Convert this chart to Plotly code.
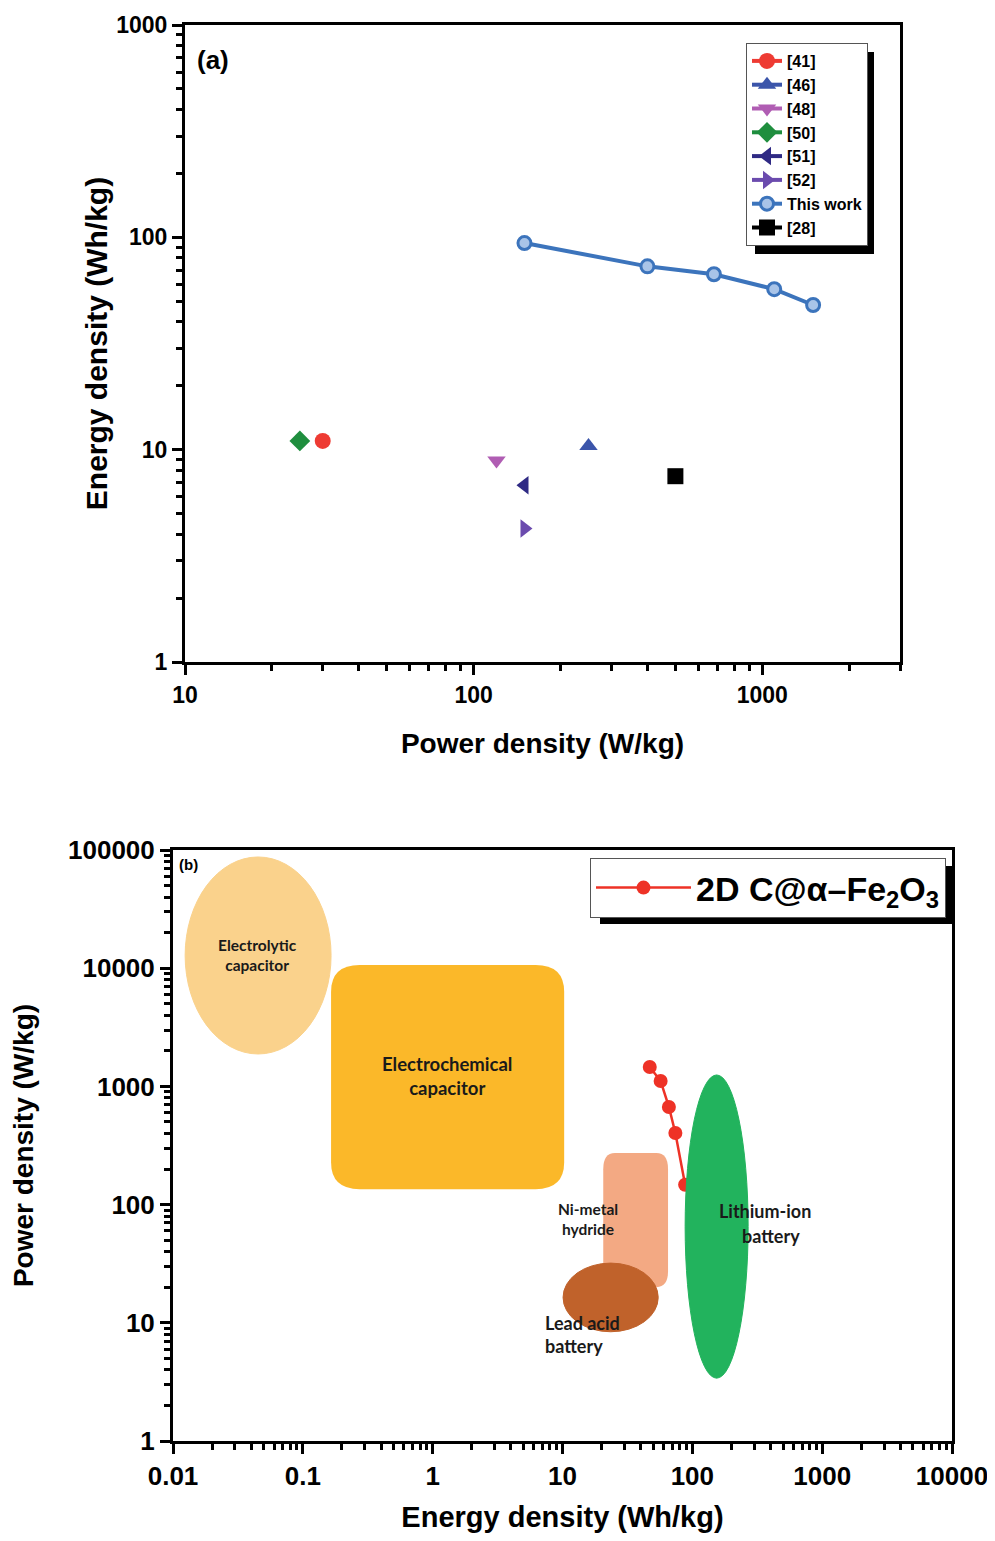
import numpy as np
import plotly.graph_objects as go

# ---------------- Panel (a) data ----------------
ref_labels = ["[41]", "[46]", "[48]", "[50]", "[51]", "[52]", "[28]"]
ref_power = [30, 250, 120, 25, 150, 150, 500]          # W/kg
ref_energy = [11.0, 10.4, 8.9, 11.0, 6.8, 4.25, 7.5]  # Wh/kg
ref_symbols = ["circle", "triangle-up", "triangle-down", "diamond",
               "triangle-left", "triangle-right", "square"]
ref_colors = ["#EE3B33", "#3B55AA", "#B05DB3", "#1F8E3E", "#2F2A84", "#6B4BAE", "#000000"]
ref_rank = [1, 2, 3, 4, 5, 6, 8]

this_power = [150, 400, 680, 1100, 1500]   # W/kg
this_energy = [94, 73, 67, 57, 48]         # Wh/kg

# ---------------- Panel (b) data ----------------
fe_energy = [47, 57, 66, 74, 88]           # Wh/kg
fe_power = [1460, 1110, 670, 403, 147]     # W/kg

region_names = ["Electrolytic capacitor", "Electrochemical capacitor", "Ni-metal hydride",
                "Lead acid battery", "Lithium-ion battery"]
region_e_min = [0.0124, 0.165, 20.6, 10.1, 88]
region_e_max = [0.165, 10.3, 65, 54.6, 269]
region_p_min = [1880, 135, 20, 8.4, 3.4]
region_p_max = [87300, 10650, 273, 32, 1250]
region_kind = ["ellipse", "roundrect", "roundrect", "ellipse", "ellipse"]
region_colors = ["#FAD28C", "#FBB829", "#F3A983", "#C0622B", "#22B35D"]
region_layer = ["below", "below", "below", "below", "above"]

# page is 995x1541; the page body adds an 8px margin around the figure
PAGE_W, PAGE_H, OFF = 995, 1541, 8
FW, FH = PAGE_W - 2 * OFF, PAGE_H - 2 * OFF
px2x = lambda px: (px - OFF) / FW
py2y = lambda py: 1 - (py - OFF) / FH

BOLD = "Liberation Sans, Arial, sans-serif"
LABF = "Lato, Open Sans, sans-serif"

fig = go.Figure()

for lab, xp, yp, sym, col, rk in zip(ref_labels, ref_power, ref_energy, ref_symbols, ref_colors, ref_rank):
    fig.add_trace(go.Scatter(
        x=[xp], y=[yp], mode="lines+markers", name=lab, legendrank=rk,
        marker=dict(symbol=sym, size=16, color=col, line=dict(width=0)),
        line=dict(color=col, width=4), xaxis="x", yaxis="y", legend="legend"))

fig.add_trace(go.Scatter(
    x=this_power, y=this_energy, mode="lines+markers", name="This work", legendrank=7,
    marker=dict(symbol="circle", size=13, color="#A9C4E8", line=dict(color="#3C74BC", width=3)),
    line=dict(color="#3C74BC", width=4), xaxis="x", yaxis="y", legend="legend"))

fig.add_trace(go.Scatter(
    x=fe_energy, y=fe_power, mode="lines+markers",
    name="2D C@\u03b1\u2013Fe<sub>2</sub>O<sub>3</sub>",
    marker=dict(symbol="circle", size=14, color="#EE3226"),
    line=dict(color="#EE3226", width=2.5), xaxis="x2", yaxis="y2", legend="legend2"))

# region shapes (panel b)
shapes = []
for nm, e0, e1, p0, p1, kind, col, lay in zip(region_names, region_e_min, region_e_max,
                                                region_p_min, region_p_max, region_kind,
                                                region_colors, region_layer):
    if kind == "ellipse":
        shapes.append(dict(type="circle", xref="x2", yref="y2", x0=e0, x1=e1, y0=p0, y1=p1,
                           fillcolor=col, line=dict(color=col, width=1), layer=lay))
    else:
        lx0, lx1, ly0, ly1 = np.log10([e0, e1, p0, p1])
        rx = min(0.22, (lx1 - lx0) * 0.18)
        ry = min(0.24, (ly1 - ly0) * 0.12)
        f = lambda v: f"{10 ** v:.6g}"
        path = (f"M{f(lx0 + rx)},{f(ly0)} L{f(lx1 - rx)},{f(ly0)} Q{f(lx1)},{f(ly0)} {f(lx1)},{f(ly0 + ry)} "
                f"L{f(lx1)},{f(ly1 - ry)} Q{f(lx1)},{f(ly1)} {f(lx1 - rx)},{f(ly1)} "
                f"L{f(lx0 + rx)},{f(ly1)} Q{f(lx0)},{f(ly1)} {f(lx0)},{f(ly1 - ry)} "
                f"L{f(lx0)},{f(ly0 + ry)} Q{f(lx0)},{f(ly0)} {f(lx0 + rx)},{f(ly0)} Z")
        shapes.append(dict(type="path", xref="x2", yref="y2", path=path,
                           fillcolor=col, line=dict(color=col, width=0), layer=lay))

# legend shadows (page pixels)
def px_rect(x0, y0, x1, y1):
    return dict(type="rect", xref="paper", yref="paper", x0=px2x(x0), x1=px2x(x1),
                y0=py2y(y1), y1=py2y(y0), fillcolor="black", line=dict(width=0), layer="above")

shapes.append(px_rect(755, 52, 874, 254))
shapes.append(px_rect(600, 866, 953, 924))

annotations = [
    dict(text="<b>(a)</b>", x=px2x(195), y=py2y(60), xref="paper", yref="paper",
         xanchor="left", yanchor="middle", showarrow=False, font=dict(family=BOLD, size=26, color="black")),
    dict(text="<b>(b)</b>", x=px2x(177), y=py2y(864), xref="paper", yref="paper",
         xanchor="left", yanchor="middle", showarrow=False, font=dict(family=BOLD, size=15, color="black")),
]

def lab(text, e, p, size, xanchor="center", align="center"):
    annotations.append(dict(text=text, x=np.log10(e), y=np.log10(p), xref="x2", yref="y2",
                            xanchor=xanchor, yanchor="middle", align=align, showarrow=False,
                            font=dict(family=LABF, size=size, color="#1a1a1a", weight="bold")))

lab("Electrolytic<br>capacitor", 0.045, 13000, 15.5)
lab("Electrochemical<br>capacitor", 1.29, 1225, 18.5)
lab("Ni-metal<br>hydride", 15.8, 75, 15.5)
lab("Lead acid<br>battery", 7.1, 7.9, 18, xanchor="left", align="left")
lab("Lithium-ion", 364, 88, 18)
lab("battery", 400, 54, 18)

tick_a = dict(family=BOLD, size=23, color="black", weight="bold")
tick_b = dict(family=BOLD, size=26, color="black", weight="bold")

def axis(domain, rng, tickfont, title, tsize, standoff, anchor):
    return dict(type="log", domain=domain, range=rng, anchor=anchor, automargin=False,
                showline=True, linewidth=3, linecolor="black", mirror=True,
                ticks="outside", ticklen=10, tickwidth=3, tickcolor="black",
                dtick=1, tickformat="~r", showgrid=False, zeroline=False,
                ticklabeloverflow="allow",
                minor=dict(ticks="outside", ticklen=6, tickwidth=2.5, tickcolor="black",
                           dtick="D1", showgrid=False),
                tickfont=tickfont,
                title=dict(text=title, standoff=standoff,
                           font=dict(family=BOLD, size=tsize, color="black", weight="bold")))

fig.update_layout(
    width=FW, height=FH, margin=dict(l=0, r=0, t=0, b=0, autoexpand=False),
    paper_bgcolor="white", plot_bgcolor="white",
    xaxis=axis([px2x(185), px2x(900)], [1, np.log10(3000)], tick_a, "Power density (W/kg)", 28, 27, "y"),
    yaxis=axis([py2y(662), py2y(25)], [0, 3], tick_a, "Energy density (Wh/kg)", 30, 0, "x"),
    xaxis2=axis([px2x(173), px2x(952)], [-2, 4], tick_b, "Energy density (Wh/kg)", 29, 33, "y2"),
    yaxis2=axis([py2y(1441), py2y(850)], [0, 5], tick_b, "Power density (W/kg)", 28, 34, "x2"),
    shapes=shapes, annotations=annotations,
    legend=dict(x=px2x(746), y=py2y(43), xanchor="left", yanchor="top",
                bgcolor="white", bordercolor="#555555", borderwidth=1,
                font=dict(family=BOLD, size=16, color="black", weight="bold"),
                tracegroupgap=0, itemwidth=30, traceorder="normal"),
    legend2=dict(x=px2x(590), y=py2y(858), xanchor="left", yanchor="top",
                 bgcolor="white", bordercolor="#555555", borderwidth=1,
                 font=dict(family=BOLD, size=34, color="black", weight="bold"),
                 itemwidth=95),
    showlegend=True,
)

fig.write_html("out.html")
